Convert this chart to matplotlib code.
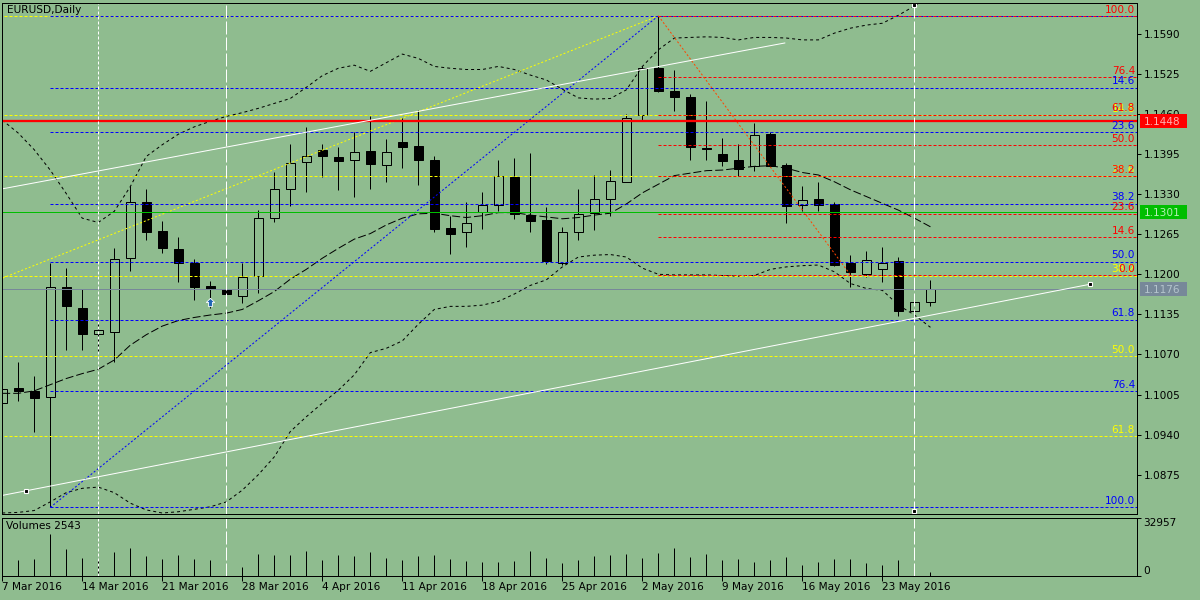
import matplotlib
matplotlib.use('Agg')
import matplotlib.pyplot as plt
from matplotlib.patches import Rectangle
from matplotlib.path import Path
from matplotlib.transforms import blended_transform_factory

plt.rcParams['font.family'] = ['DejaVu Sans']
plt.rcParams['font.size'] = 7.6
plt.rcParams['lines.scale_dashes'] = False

# ---------------- data ----------------
opens = [1.0991, 1.1016, 1.1011, 1.1001, 1.1179, 1.1146, 1.1103, 1.1107, 1.1226, 1.1317,
         1.1270, 1.1241, 1.1218, 1.1181, 1.1176, 1.1165, 1.1197, 1.1291, 1.1338, 1.1382,
         1.1402, 1.1390, 1.1385, 1.1400, 1.1377, 1.1414, 1.1408, 1.1385, 1.1275, 1.1268,
         1.1301, 1.1313, 1.1357, 1.1296, 1.1288, 1.1218, 1.1269, 1.1299, 1.1322, 1.1350,
         1.1459, 1.1534, 1.1497, 1.1487, 1.1404, 1.1395, 1.1385, 1.1375, 1.1428, 1.1377,
         1.1312, 1.1322, 1.1314, 1.1218, 1.1201, 1.1209, 1.1221, 1.1141, 1.1155]
highs = [1.1045, 1.1058, 1.1035, 1.1219, 1.1210, 1.1176, 1.1125, 1.1242, 1.1343, 1.1338,
         1.1286, 1.1260, 1.1225, 1.1189, 1.1181, 1.1219, 1.1304, 1.1366, 1.1412, 1.1439,
         1.1412, 1.1407, 1.1431, 1.1456, 1.1419, 1.1453, 1.1466, 1.1392, 1.1295, 1.1317,
         1.1333, 1.1385, 1.1388, 1.1396, 1.1309, 1.1277, 1.1339, 1.1361, 1.1369, 1.1460,
         1.1537, 1.1619, 1.1531, 1.1493, 1.1481, 1.1421, 1.1411, 1.1446, 1.1430, 1.1380,
         1.1343, 1.1349, 1.1318, 1.1231, 1.1238, 1.1245, 1.1228, 1.1168, 1.1191]
lows = [1.0985, 1.0994, 1.0945, 1.0822, 1.1077, 1.1077, 1.1072, 1.1058, 1.1206, 1.1256,
        1.1235, 1.1188, 1.1159, 1.1145, 1.1154, 1.1153, 1.1169, 1.1284, 1.1310, 1.1334,
        1.1358, 1.1336, 1.1326, 1.1338, 1.1349, 1.1372, 1.1345, 1.1268, 1.1233, 1.1245,
        1.1273, 1.1303, 1.1290, 1.1269, 1.1217, 1.1215, 1.1256, 1.1271, 1.1295, 1.1349,
        1.1448, 1.1496, 1.1465, 1.1386, 1.1386, 1.1376, 1.1359, 1.1368, 1.1374, 1.1283,
        1.1303, 1.1302, 1.1214, 1.1180, 1.1195, 1.1188, 1.1132, 1.1130, 1.1149]
closes = [1.1014, 1.1010, 1.0999, 1.1179, 1.1148, 1.1104, 1.1109, 1.1224, 1.1318, 1.1269,
          1.1242, 1.1218, 1.1180, 1.1176, 1.1168, 1.1196, 1.1291, 1.1338, 1.1380, 1.1392,
          1.1391, 1.1384, 1.1399, 1.1378, 1.1399, 1.1407, 1.1385, 1.1273, 1.1266, 1.1283,
          1.1313, 1.1359, 1.1297, 1.1287, 1.1222, 1.1268, 1.1297, 1.1322, 1.1352, 1.1453,
          1.1535, 1.1497, 1.1488, 1.1406, 1.1403, 1.1383, 1.1371, 1.1426, 1.1376, 1.1311,
          1.1320, 1.1313, 1.1215, 1.1203, 1.1223, 1.1219, 1.1141, 1.1155, 1.1176]
volumes = [9000, 9040, 9605, 23540, 15255, 10170, 9605, 13560, 15820, 11300,
           9605, 11865, 9605, 9040, 6780, 5085, 12430, 11865, 11865, 14125,
           9040, 11865, 11300, 13560, 10170, 9040, 11300, 11865, 9605, 8475,
           7910, 7910, 8475, 14125, 10170, 7345, 9040, 11300, 11865, 12430,
           10170, 12995, 15820, 10735, 12430, 9040, 9605, 7910, 9040, 10735,
           6215, 7910, 9605, 9605, 7345, 6215, 9040, 6780, 2543]

bb_upper = [1.1450, 1.1429, 1.1402, 1.1369, 1.1331, 1.1291, 1.1284, 1.1302, 1.1342, 1.1391,
            1.1410, 1.1427, 1.1439, 1.1448, 1.1456, 1.1462, 1.1469, 1.1477, 1.1485, 1.1503,
            1.1522, 1.1534, 1.1539, 1.1529, 1.1543, 1.1557, 1.1550, 1.1537, 1.1534, 1.1532,
            1.1532, 1.1537, 1.1532, 1.1523, 1.1515, 1.1500, 1.1486, 1.1484, 1.1485, 1.1499,
            1.1537, 1.1564, 1.1583, 1.1584, 1.1585, 1.1584, 1.1580, 1.1584, 1.1584, 1.1583,
            1.1580, 1.1580, 1.1591, 1.1599, 1.1604, 1.1607, 1.1620, 1.1635, 1.1652]
bb_middle = [1.1007, 1.1007, 1.1011, 1.1021, 1.1031, 1.1039, 1.1046, 1.1061, 1.1085, 1.1102,
             1.1116, 1.1125, 1.1130, 1.1134, 1.1137, 1.1143, 1.1157, 1.1172, 1.1192, 1.1208,
             1.1226, 1.1242, 1.1257, 1.1266, 1.1280, 1.1291, 1.1298, 1.1299, 1.1295, 1.1292,
             1.1295, 1.1300, 1.1300, 1.1296, 1.1293, 1.1290, 1.1292, 1.1296, 1.1299, 1.1314,
             1.1332, 1.1346, 1.1360, 1.1364, 1.1368, 1.1369, 1.1372, 1.1375, 1.1376, 1.1372,
             1.1365, 1.1361, 1.1350, 1.1337, 1.1326, 1.1315, 1.1304, 1.1291, 1.1277]
bb_lower = [1.0813, 1.0814, 1.0817, 1.0831, 1.0846, 1.0853, 1.0855, 1.0846, 1.0829, 1.0818,
            1.0813, 1.0815, 1.0819, 1.0823, 1.0831, 1.0850, 1.0875, 1.0904, 1.0945, 1.0969,
            1.0991, 1.1012, 1.1037, 1.1073, 1.1080, 1.1092, 1.1119, 1.1143, 1.1148, 1.1148,
            1.1150, 1.1156, 1.1168, 1.1182, 1.1191, 1.1212, 1.1228, 1.1231, 1.1232, 1.1228,
            1.1210, 1.1200, 1.1199, 1.1199, 1.1199, 1.1198, 1.1197, 1.1198, 1.1208, 1.1212,
            1.1214, 1.1215, 1.1204, 1.1185, 1.1177, 1.1174, 1.1150, 1.1134, 1.1114]

week_starts = [0, 5, 10, 15, 20, 25, 30, 35, 40, 45, 50, 55]
week_labels = ['7 Mar 2016', '14 Mar 2016', '21 Mar 2016', '28 Mar 2016', '4 Apr 2016',
               '11 Apr 2016', '18 Apr 2016', '25 Apr 2016', '2 May 2016', '9 May 2016',
               '16 May 2016', '23 May 2016']
price_ticks = [1.0875, 1.0940, 1.1005, 1.1070, 1.1135, 1.1200, 1.1265, 1.1330,
               1.1395, 1.1460, 1.1525, 1.1590]
volume_ticks = [0, 32957]

# Fibonacci objects: (first anchor index, first price, second anchor index, second price)
fib_blue = (3, 1.0822, 41, 1.1619)
fib_red = (41, 1.1619, 53, 1.1199)
fib_yellow = (-65.3, 1.0516, 41, 1.1619)
fib_blue_levels = [0.0, 14.6, 23.6, 38.2, 50.0, 61.8, 76.4, 100.0]
fib_red_levels = [0.0, 14.6, 23.6, 38.2, 50.0, 61.8, 76.4, 100.0]
fib_yellow_levels = [0.0, 14.6, 23.6, 38.2, 50.0, 61.8]

# horizontal lines with price labels
hline_prices = [1.1448, 1.1301, 1.1176]
# trend lines (index, price)
trend_upper = [(-0.1, 1.1338), (48.9, 1.1575)]
trend_lower = [(-0.1, 1.0841), (68.0, 1.1184)]
trend_lower_points = [(1.5, 1.0849), (68.0, 1.1184)]
vline_idx = [6, 14, 57]
vline_points = [(57, 1.16366), (57, 1.08162)]
arrow_point = (13, 1.1155)

symbol_title = 'EURUSD,Daily'
volume_title = 'Volumes 2543'

# ---------------- styling / layout ----------------
BG = '#8FBC8F'
W, H = 1200, 600
PX = 0.72
x_left, x_right = -0.0125, 70.925
p_bottom, p_top = 1.08109, 1.16403
FIB_DASH = (3 * PX, 2 * PX)

fig = plt.figure(figsize=(12, 6), dpi=100, facecolor=BG)
ax = fig.add_axes([2.0 / W, 1 - 514.3 / H, (1137.3 - 2.0) / W, (514.3 - 2.7) / H], facecolor=BG)
axv = fig.add_axes([2.0 / W, 1 - 576 / H, (1137.3 - 2.0) / W, (576 - 517.7) / H], facecolor=BG)

for a in (ax, axv):
    a.set_xlim(x_left, x_right)
    for s in a.spines.values():
        s.set_color('black')
        s.set_linewidth(1.0 * PX)
        s.set_zorder(10)
ax.set_ylim(p_bottom, p_top)
axv.set_ylim(0, volume_ticks[1])

# candles
idx = list(range(len(opens)))
for i in idx:
    o, h, l, c = opens[i], highs[i], lows[i], closes[i]
    ax.plot([i, i], [l, h], color='black', lw=PX, zorder=2, solid_capstyle='butt')
    bottom = min(o, c)
    height = max(abs(c - o), 0.00001)
    fc = 'black' if c < o else BG
    ax.add_patch(Rectangle((i - 0.28, bottom), 0.56, height, fc=fc, ec='black',
                           lw=PX, zorder=2.2))

# Bollinger bands
ax.plot(idx, bb_upper, color='black', lw=PX, dashes=(3 * PX, 3 * PX), zorder=3)
ax.plot(idx, bb_lower, color='black', lw=PX, dashes=(3 * PX, 3 * PX), zorder=3)
ax.plot(idx, bb_middle, color='black', lw=PX, dashes=(8 * PX, 3 * PX), zorder=3)

# Fibonacci retracements
def draw_fib(fib, levels, color, diag_color, labelled):
    x1, p1, x2, p2 = fib
    for lv in levels:
        price = p2 + (p1 - p2) * lv / 100.0
        ax.plot([x1, x_right], [price, price], color=color, lw=PX, dashes=FIB_DASH, zorder=4)
        if lv in labelled:
            ax.annotate(f'{lv:.1f}', xy=(1, price), xycoords=ax.get_yaxis_transform(),
                        xytext=(-1.7, 2.4), textcoords='offset points', ha='right',
                        va='baseline', color=color, zorder=6, annotation_clip=False)
    ax.plot([x1, x2], [p1, p2], color=diag_color, lw=PX, dashes=(2 * PX, 2 * PX), zorder=4)

draw_fib(fib_yellow, fib_yellow_levels, '#FFFF00', '#FFFF00', fib_yellow_levels[1:])
draw_fib(fib_blue, fib_blue_levels, '#0000FF', '#0000FF', fib_blue_levels[1:])
draw_fib(fib_red, fib_red_levels, '#FF0000', '#FF4500', fib_red_levels)

# horizontal lines
hcolors = ['#FF0000', '#00BE00', '#778899']
hwidths = [2.3 * PX, PX, PX]
box_text = ['#FFB0B0', '#B4F0B4', '#B4C4CC']
tr = blended_transform_factory(ax.transAxes, ax.transData)
ax_w_px = 1135.3
unit_per_px = (p_top - p_bottom) / 511.6
for price, col, lw, tc in zip(hline_prices, hcolors, hwidths, box_text):
    ax.axhline(price, color=col, lw=lw, zorder=5)
    ax.add_patch(Rectangle((1 + 2.7 / ax_w_px, price - 7 * unit_per_px), 46.7 / ax_w_px,
                           14 * unit_per_px, transform=tr, fc=col, ec='none',
                           clip_on=False, zorder=8))
    ax.text(1 + 6.3 / ax_w_px, price, f'{price:.4f}', transform=tr, color=tc,
            va='center_baseline', ha='left', clip_on=False, zorder=9)

# trend lines
for tl in (trend_upper, trend_lower):
    ax.plot([tl[0][0], tl[1][0]], [tl[0][1], tl[1][1]], color='white', lw=PX, zorder=5)
for (xp, yp) in trend_lower_points + vline_points:
    ax.plot(xp, yp, marker='s', ms=3.2, mfc='black', mec='white', mew=0.8, zorder=7,
            clip_on=False)

# vertical lines
vstyles = [(3 * PX, 2 * PX), (13 * PX, 3 * PX), (13 * PX, 3 * PX)]
for vx, ds in zip(vline_idx, vstyles):
    for a in (ax, axv):
        a.axvline(vx, color='white', lw=PX, dashes=ds, zorder=5)

# arrow
arrow_path = Path([(0, 1), (-1, 0), (-0.45, 0), (-0.45, -1), (0.45, -1), (0.45, 0), (1, 0), (0, 1)],
                  [Path.MOVETO] + [Path.LINETO] * 6 + [Path.CLOSEPOLY])
ax.plot(arrow_point[0], arrow_point[1], marker=arrow_path, ms=6.0, mfc='#1E64B4',
        mec='white', mew=0.6, zorder=7)

# volumes
axv.vlines(idx, 0, volumes, colors='black', lw=PX, zorder=3)

# axes / ticks
ax.yaxis.tick_right()
ax.set_yticks(price_ticks)
ax.set_yticklabels([f'{p:.4f}' for p in price_ticks])
ax.tick_params(axis='y', direction='out', length=3.2, width=PX, pad=1.2, colors='black')
ax.set_xticks([])

axv.yaxis.tick_right()
axv.set_yticks(volume_ticks)
axv.set_yticklabels([str(v) for v in volume_ticks])
labs = axv.get_yticklabels()
labs[0].set_va('bottom')
labs[1].set_va('top')
axv.tick_params(axis='y', direction='out', length=3.2, width=PX, pad=1.2, colors='black')
axv.set_xticks(week_starts)
axv.set_xticklabels(week_labels, ha='left')
axv.tick_params(axis='x', direction='out', length=3.4, width=PX, pad=1.0, colors='black')

ax.annotate(symbol_title, xy=(0, 1), xycoords='axes fraction', xytext=(3.6, -1.9),
            textcoords='offset points', ha='left', va='top', color='black', zorder=9)
axv.annotate(volume_title, xy=(0, 1), xycoords='axes fraction', xytext=(3.2, -2.4),
             textcoords='offset points', ha='left', va='top', color='black', zorder=9)

fig.savefig('out.png', dpi=100, facecolor=BG)
